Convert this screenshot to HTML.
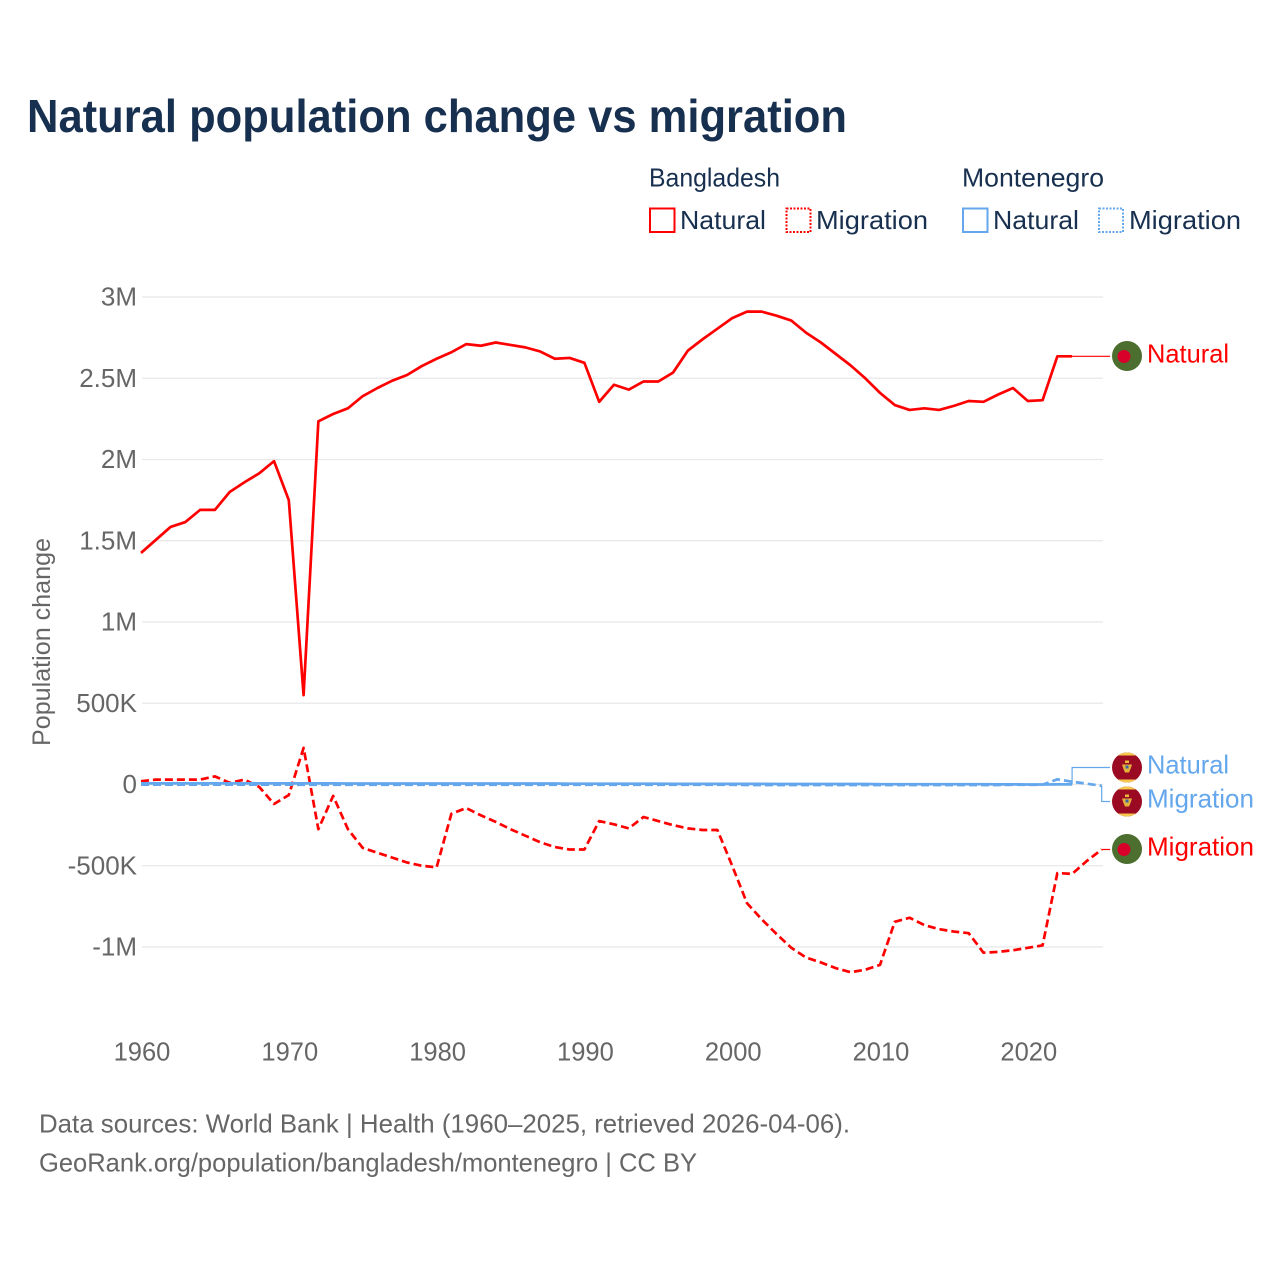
<!DOCTYPE html>
<html lang="en">
<head>
<meta charset="utf-8">
<title>Natural population change vs migration</title>
<style>
html,body{margin:0;padding:0;background:#fff;}
svg{display:block;font-family:"Liberation Sans",Arial,sans-serif;}
</style>
</head>
<body>
<svg id="chart" width="1280" height="1280" viewBox="0 0 1280 1280" xmlns="http://www.w3.org/2000/svg">
  <defs>
    <clipPath id="flag-clip-a"><circle cx="1127" cy="356" r="15"/></clipPath>
    <clipPath id="flag-clip-b"><circle cx="1127" cy="849" r="15"/></clipPath>
    <clipPath id="flag-clip-me-767"><circle cx="1127" cy="767.500" r="15"/></clipPath>
    <clipPath id="flag-clip-me-801"><circle cx="1127" cy="801.500" r="15"/></clipPath>
  </defs>
  <rect width="1280" height="1280" fill="#fff"/>
  <text x="27" y="132" font-size="46" font-weight="700" fill="#18304f" textLength="820" lengthAdjust="spacingAndGlyphs">Natural population change vs migration</text>

  <g font-size="26" fill="#18304f">
    <text x="649" y="186.500" textLength="131" lengthAdjust="spacingAndGlyphs">Bangladesh</text>
    <text x="962" y="186.500" textLength="142" lengthAdjust="spacingAndGlyphs">Montenegro</text>
    <rect x="650" y="208.500" width="24.500" height="23.500" fill="none" stroke="#ff0000" stroke-width="2"/>
    <text x="680" y="229" textLength="86" lengthAdjust="spacingAndGlyphs">Natural</text>
    <rect x="786.500" y="208.500" width="24" height="23.500" fill="none" stroke="#ff0000" stroke-width="2" stroke-dasharray="2 1.500"/>
    <text x="816" y="229" textLength="112" lengthAdjust="spacingAndGlyphs">Migration</text>
    <rect x="963" y="208.500" width="24.500" height="23.500" fill="none" stroke="#64a7ec" stroke-width="2"/>
    <text x="993" y="229" textLength="86" lengthAdjust="spacingAndGlyphs">Natural</text>
    <rect x="1099" y="208.500" width="24" height="23.500" fill="none" stroke="#64a7ec" stroke-width="2" stroke-dasharray="2 1.500"/>
    <text x="1129" y="229" textLength="112" lengthAdjust="spacingAndGlyphs">Migration</text>
  </g>

  <g id="grid"></g>
  <g id="yticks" font-size="26" fill="#666666" text-anchor="end"></g>
  <g id="xticks" font-size="25.500" fill="#666666" text-anchor="middle"></g>
  <text transform="translate(50,642) rotate(-90)" font-size="25" fill="#666666" text-anchor="middle" textLength="208" lengthAdjust="spacingAndGlyphs">Population change</text>
  <g id="series" fill="none" stroke-linejoin="round"></g>
  <g id="connectors" fill="none" stroke-width="1.200"></g>

  <g clip-path="url(#flag-clip-a)">
    <rect x="1112" y="341" width="30" height="30" fill="#4c6e2f"/>
    <circle cx="1124" cy="356.500" r="6.500" fill="#d8002b"/>
  </g>
  <g clip-path="url(#flag-clip-b)">
    <rect x="1112" y="834" width="30" height="30" fill="#4c6e2f"/>
    <circle cx="1124" cy="849.500" r="6.500" fill="#d8002b"/>
  </g>
  <g id="flags-me"></g>

  <g font-size="26">
    <text x="1147" y="362.500" fill="#ff0000" textLength="82" lengthAdjust="spacingAndGlyphs">Natural</text>
    <text x="1147" y="773.500" fill="#64a7ec" textLength="82" lengthAdjust="spacingAndGlyphs">Natural</text>
    <text x="1147" y="807.500" fill="#64a7ec" textLength="107" lengthAdjust="spacingAndGlyphs">Migration</text>
    <text x="1147" y="855.500" fill="#ff0000" textLength="107" lengthAdjust="spacingAndGlyphs">Migration</text>
  </g>

  <g font-size="26" fill="#666666">
    <text x="39" y="1132.500" textLength="811" lengthAdjust="spacingAndGlyphs">Data sources: World Bank | Health (1960–2025, retrieved 2026-04-06).</text>
    <text x="39" y="1171.500" textLength="658" lengthAdjust="spacingAndGlyphs">GeoRank.org/population/bangladesh/montenegro | CC BY</text>
  </g>
</svg>
<script>
var startYear = 1960;
var yTickValues = [3000000, 2500000, 2000000, 1500000, 1000000, 500000, 0, -500000, -1000000];
var yTickLabels = ['3M', '2.5M', '2M', '1.5M', '1M', '500K', '0', '-500K', '-1M'];
var xTickValues = [1960, 1970, 1980, 1990, 2000, 2010, 2020];
var bangladeshNatural = [1.425,1.505,1.585,1.615,1.69,1.69,1.80,1.86,1.915,1.99,1.75,0.55,2.235,2.28,2.315,2.39,2.44,2.485,2.52,2.575,2.62,2.66,2.71,2.70,2.72,2.705,2.69,2.665,2.62,2.625,2.595,2.355,2.46,2.43,2.48,2.48,2.535,2.67,2.74,2.805,2.87,2.91,2.91,2.885,2.855,2.78,2.72,2.65,2.58,2.50,2.41,2.335,2.305,2.315,2.305,2.33,2.36,2.355,2.40,2.44,2.36,2.365,2.635,2.635];
var bangladeshMigration = [0.02,0.03,0.03,0.03,0.03,0.05,0.01,0.03,-0.015,-0.12,-0.065,0.225,-0.275,-0.07,-0.275,-0.39,-0.42,-0.45,-0.48,-0.50,-0.51,-0.18,-0.145,-0.19,-0.23,-0.275,-0.315,-0.355,-0.385,-0.40,-0.40,-0.225,-0.245,-0.27,-0.20,-0.225,-0.25,-0.27,-0.28,-0.28,-0.50,-0.73,-0.83,-0.92,-1.005,-1.065,-1.095,-1.13,-1.155,-1.14,-1.11,-0.845,-0.82,-0.865,-0.89,-0.905,-0.915,-1.035,-1.03,-1.02,-1.005,-0.99,-0.545,-0.55,-0.47,-0.40];
var montenegroNatural = [0.007,0.007,0.007,0.007,0.007,0.007,0.007,0.007,0.007,0.007,0.007,0.007,0.007,0.007,0.006,0.006,0.006,0.006,0.006,0.006,0.006,0.006,0.006,0.006,0.006,0.006,0.006,0.006,0.006,0.005,0.005,0.005,0.005,0.005,0.005,0.005,0.004,0.004,0.004,0.004,0.004,0.004,0.004,0.003,0.003,0.003,0.003,0.003,0.003,0.003,0.002,0.002,0.002,0.002,0.002,0.002,0.002,0.002,0.001,0.001,0.000,0.000,0.001,0.001];
var montenegroMigration = [-0.001,-0.001,-0.001,-0.001,-0.001,-0.001,-0.001,-0.001,-0.001,-0.001,-0.001,-0.002,-0.002,-0.002,-0.002,-0.002,-0.002,-0.002,-0.002,-0.002,-0.002,-0.002,-0.002,-0.002,-0.002,-0.002,-0.002,-0.002,-0.002,-0.002,-0.002,-0.002,-0.002,-0.002,-0.002,-0.002,-0.002,-0.002,-0.002,-0.002,-0.002,-0.003,-0.003,-0.003,-0.003,-0.003,-0.003,-0.003,-0.003,-0.003,-0.003,-0.003,-0.003,-0.003,-0.003,-0.003,-0.003,-0.003,-0.003,-0.002,-0.002,-0.001,0.032,0.017,0.005,-0.008];

var svgNS = 'http://www.w3.org/2000/svg';
function xScale(year) { return 141 + (year - 1960) * 14.78; }
function yScale(value) { return 784.5 - value * 162.5 / 1000000; }
function yScaleM(value) { return yScale(value * 1000000); }
function node(tag, parent) {
  var el = document.createElementNS(svgNS, tag);
  parent.appendChild(el);
  return el;
}

var gridGroup = document.getElementById('grid');
var yTickGroup = document.getElementById('yticks');
yTickValues.forEach(function (v, i) {
  var line = node('line', gridGroup);
  
  
  line.setAttribute('x1', 142);
  line.setAttribute('x2', 1103);
  line.setAttribute('y1', yScale(v));
  line.setAttribute('y2', yScale(v));
  line.setAttribute('stroke', '#e8e8e8');
  line.setAttribute('stroke-width', 1.2);
  var label = node('text', yTickGroup);
  
  
  label.setAttribute('x', 137);
  label.setAttribute('y', yScale(v) + 8.5);
  label.textContent = yTickLabels[i];
});

var xTickGroup = document.getElementById('xticks');
xTickValues.forEach(function (year) {
  var label = node('text', xTickGroup);
  
  
  label.setAttribute('x', xScale(year) + 1);
  label.setAttribute('y', 1060.5);
  label.textContent = String(year);
});

function linePoints(values) {
  return values.map(function (v, i) {
    return xScale(startYear + i).toFixed(2) + ',' + yScaleM(v).toFixed(2);
  }).join(' ');
}
var seriesGroup = document.getElementById('series');

var lineBdNatural = node('polyline', seriesGroup);


lineBdNatural.setAttribute('points', linePoints(bangladeshNatural));
lineBdNatural.setAttribute('stroke', '#ff0000');
lineBdNatural.setAttribute('stroke-width', 2.7);

var lineBdMigration = node('polyline', seriesGroup);


lineBdMigration.setAttribute('points', linePoints(bangladeshMigration));
lineBdMigration.setAttribute('stroke', '#ff0000');
lineBdMigration.setAttribute('stroke-width', 2.7);
lineBdMigration.setAttribute('stroke-dasharray', '8 4');

var lineMeMigration = node('polyline', seriesGroup);


lineMeMigration.setAttribute('points', linePoints(montenegroMigration));
lineMeMigration.setAttribute('stroke', '#64a7ec');
lineMeMigration.setAttribute('stroke-width', 2.7);
lineMeMigration.setAttribute('stroke-dasharray', '8 4');

var lineMeNatural = node('polyline', seriesGroup);


lineMeNatural.setAttribute('points', linePoints(montenegroNatural));
lineMeNatural.setAttribute('stroke', '#64a7ec');
lineMeNatural.setAttribute('stroke-width', 2.7);

function lastPoint(values) {
  var i = values.length - 1;
  return { x: xScale(startYear + i), y: yScaleM(values[i]) };
}
var connectorGroup = document.getElementById('connectors');
function connectorPoints(end, labelY) {
  return end.x.toFixed(1) + ',' + end.y.toFixed(1) + ' ' + end.x.toFixed(1) + ',' + labelY + ' 1110,' + labelY;
}
var connA = node('polyline', connectorGroup);


connA.setAttribute('points', connectorPoints(lastPoint(bangladeshNatural), yScaleM(bangladeshNatural[bangladeshNatural.length - 1]).toFixed(1)));
connA.setAttribute('stroke', '#ff0000');

var connB = node('polyline', connectorGroup);


connB.setAttribute('points', connectorPoints(lastPoint(montenegroNatural), 767.5));
connB.setAttribute('stroke', '#64a7ec');

var connC = node('polyline', connectorGroup);


connC.setAttribute('points', connectorPoints(lastPoint(montenegroMigration), 801.5));
connC.setAttribute('stroke', '#64a7ec');

var connD = node('polyline', connectorGroup);


connD.setAttribute('points', connectorPoints(lastPoint(bangladeshMigration), yScaleM(bangladeshMigration[bangladeshMigration.length - 1]).toFixed(1)));
connD.setAttribute('stroke', '#ff0000');

var flagHost = document.getElementById('flags-me');
[767.5, 801.5].forEach(function (cy) {
  var g = node('g', flagHost);
  
  
  g.setAttribute('clip-path', 'url(#flag-clip-me-' + Math.floor(cy) + ')');
  var base = node('rect', g);
  base.setAttribute('x', 1112);
  base.setAttribute('y', cy - 15);
  base.setAttribute('width', 30);
  base.setAttribute('height', 30);
  base.setAttribute('fill', '#9a0a22');
  var top = node('rect', g);
  top.setAttribute('x', 1112);
  top.setAttribute('y', cy - 15);
  top.setAttribute('width', 30);
  top.setAttribute('height', 3);
  top.setAttribute('fill', '#f4c94e');
  var bottom = node('rect', g);
  bottom.setAttribute('x', 1112);
  bottom.setAttribute('y', cy + 12);
  bottom.setAttribute('width', 30);
  bottom.setAttribute('height', 3);
  bottom.setAttribute('fill', '#f4c94e');
  var crown = node('rect', g);
  crown.setAttribute('x', 1125);
  crown.setAttribute('y', cy - 7);
  crown.setAttribute('width', 4);
  crown.setAttribute('height', 2.5);
  crown.setAttribute('fill', '#e8b93a');
  var bird = node('path', g);
  bird.setAttribute('d', 'M1122 ' + (cy - 3) + ' L1132 ' + (cy - 3) + ' L1130.500 ' + (cy + 1.5) + ' L1129 ' + (cy + 5) + ' L1125 ' + (cy + 5) + ' L1123.500 ' + (cy + 1.5) + ' Z');
  bird.setAttribute('fill', '#e3b23a');
  var shield = node('rect', g);
  shield.setAttribute('x', 1125.5);
  shield.setAttribute('y', cy - 2);
  shield.setAttribute('width', 3);
  shield.setAttribute('height', 3);
  shield.setAttribute('fill', '#3a66a8');
});
</script>
</body>
</html>
